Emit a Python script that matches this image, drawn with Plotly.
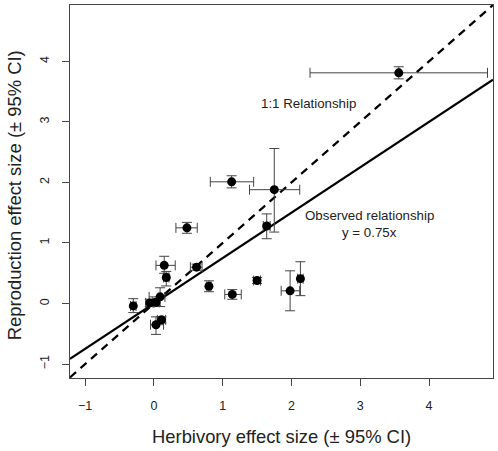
import plotly.graph_objects as go

herb = [3.56, 1.13, 1.75, 1.64, 0.48, 0.15, 0.62, 0.18, 0.80, 1.14, 1.50, 1.98, 2.13, 0.09, -0.06, 0.03, -0.30, 0.11, 0.03]
repro = [3.81, 2.01, 1.88, 1.28, 1.25, 0.63, 0.60, 0.43, 0.285, 0.15, 0.38, 0.21, 0.41, 0.11, 0.01, 0.02, -0.04, -0.27, -0.35]
herb_lo = [1.29, 0.31, 0.36, 0.05, 0.16, 0.12, 0.09, 0.04, 0.03, 0.11, 0.05, 0.13, 0.04, 0.16, 0.06, 0.05, 0.04, 0.06, 0.08]
herb_hi = [1.29, 0.32, 0.37, 0.05, 0.15, 0.16, 0.08, 0.04, 0.03, 0.13, 0.05, 0.14, 0.04, 0.07, 0.06, 0.05, 0.04, 0.06, 0.11]
repro_lo = [0.10, 0.10, 0.70, 0.21, 0.09, 0.13, 0.05, 0.14, 0.09, 0.08, 0.05, 0.33, 0.28, 0.16, 0.06, 0.05, 0.11, 0.05, 0.16]
repro_hi = [0.10, 0.10, 0.68, 0.20, 0.09, 0.15, 0.05, 0.10, 0.09, 0.08, 0.05, 0.33, 0.28, 0.15, 0.06, 0.05, 0.12, 0.05, 0.13]

one_to_one_slope = 1.0
observed_slope = 0.75
x_ticks = [-1, 0, 1, 2, 3, 4]
y_ticks = [-1, 0, 1, 2, 3, 4]
x_range = [-1.22, 4.93]
y_range = [-1.23, 4.93]

fig = go.Figure()

fig.add_trace(go.Scatter(
    x=x_range, y=[one_to_one_slope * v for v in x_range], mode="lines",
    line=dict(color="black", width=2.2, dash="8px,6px"), hoverinfo="skip", showlegend=False))
fig.add_trace(go.Scatter(
    x=x_range, y=[observed_slope * v for v in x_range], mode="lines",
    line=dict(color="black", width=2.2), hoverinfo="skip", showlegend=False))

fig.add_trace(go.Scatter(
    x=herb, y=repro, mode="markers",
    marker=dict(color="black", size=9),
    error_x=dict(type="data", symmetric=False, array=herb_hi, arrayminus=herb_lo,
                 color="#444", thickness=1, width=5),
    error_y=dict(type="data", symmetric=False, array=repro_hi, arrayminus=repro_lo,
                 color="#444", thickness=1, width=5),
    showlegend=False))

font_fam = "Liberation Sans, Arial, sans-serif"
ann_font = dict(family=font_fam, size=13.3, color="#222")
fig.add_annotation(x=2.25, y=3.30, text="1:1 Relationship", showarrow=False, font=ann_font)
fig.add_annotation(x=3.14, y=1.46, text="Observed relationship", showarrow=False, font=ann_font)
fig.add_annotation(x=3.14, y=1.18, text="y = 0.75x", showarrow=False, font=ann_font)

title_font = dict(family=font_fam, size=18.4, color="#222")
fig.add_annotation(xref="paper", yref="paper", x=0.5, y=-0.158, xanchor="center", yanchor="middle",
                   text="Herbivory effect size (± 95% CI)", showarrow=False, font=title_font)
fig.add_annotation(xref="paper", yref="paper", x=-0.131, y=0.489, xanchor="center", yanchor="middle",
                   textangle=-90, text="Reproduction effect size (± 95% CI)", showarrow=False, font=title_font)

fig.update_layout(
    width=498, height=451,
    margin=dict(l=70, r=5, t=5, b=73),
    paper_bgcolor="white", plot_bgcolor="white",
    font=dict(family=font_fam, color="#222"),
    xaxis=dict(range=x_range, tickvals=x_ticks, ticks="outside", ticklen=7, tickcolor="#444",
               showline=True, linecolor="#444", linewidth=1, mirror=True, showgrid=False,
               zeroline=False, automargin=False, ticklabelstandoff=9,
               tickfont=dict(size=12.5, color="#222")),
    yaxis=dict(range=y_range, tickvals=y_ticks, ticks="outside", ticklen=7, tickcolor="#444",
               showline=True, linecolor="#444", linewidth=1, mirror=True, showgrid=False,
               zeroline=False, automargin=False, tickangle=-90, ticklabelstandoff=8,
               tickfont=dict(size=12.5, color="#222")),
)

fig.write_html("out.html", config={"displayModeBar": False},
               post_script="document.body.style.margin='0';document.body.style.overflow='hidden';")
